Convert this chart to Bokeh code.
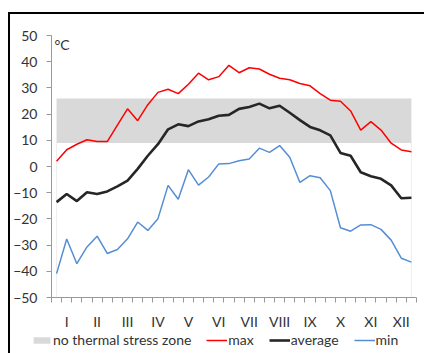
from bokeh.plotting import figure
from bokeh.layouts import column
from bokeh.models import Range1d, FixedTicker, Legend, LegendItem, Label
from bokeh.embed import file_html
from bokeh.resources import INLINE

# Dekad (10-day period) values, 36 per year
max_t = [2.0, 6.4, 8.5, 10.2, 9.5, 9.5, 15.8, 22.0, 17.5, 23.6, 28.3, 29.5,
         27.8, 31.4, 35.6, 33.1, 34.3, 38.6, 35.8, 37.7, 37.2, 35.2, 33.7, 33.1,
         31.7, 30.8, 27.8, 25.3, 24.9, 21.2, 13.9, 17.1, 13.9, 8.9, 6.3, 5.6]
avg_t = [-13.6, -10.5, -13.2, -9.8, -10.5, -9.5, -7.6, -5.4, -0.9, 4.1, 8.5, 14.2,
         16.1, 15.4, 17.2, 18.0, 19.4, 19.7, 22.0, 22.7, 24.0, 22.2, 23.2, 20.5,
         17.7, 15.1, 13.8, 11.9, 5.2, 4.1, -2.2, -3.7, -4.7, -7.2, -12.1, -11.9]
min_t = [-40.9, -27.7, -37.1, -30.7, -26.6, -33.2, -31.7, -27.6, -21.2, -24.4, -19.9, -7.2,
         -12.5, -1.2, -7.1, -4.0, 1.0, 1.1, 2.2, 2.9, 7.0, 5.4, 8.0, 3.5,
         -6.1, -3.5, -4.3, -9.2, -23.4, -24.7, -22.3, -22.2, -24.0, -28.1, -35.0, -36.5]
months = ["I", "II", "III", "IV", "V", "VI", "VII", "VIII", "IX", "X", "XI", "XII"]
zone_low = 9
zone_high = 26
y_ticks = [-50, -40, -30, -20, -10, 0, 10, 20, 30, 40, 50]

n = len(max_t)
x = [i + 0.5 for i in range(n)]
month_pos = [3 * k + 1.5 for k in range(len(months))]

FONT = "Lato"
TXT = "#333333"
AX = "#999999"
ZONE = "#d9d9d9"
C_MAX, C_AVG, C_MIN = "#ff0000", "#262626", "#558ed5"

p = figure(width=414, height=318, x_range=Range1d(0, n), y_range=Range1d(y_ticks[0], y_ticks[-1]),
           output_backend="svg", toolbar_location=None,
           min_border_left=37, min_border_right=8, min_border_top=21, min_border_bottom=32)
p.xgrid.visible = False
p.ygrid.visible = False
p.outline_line_color = None
p.background_fill_color = "white"

# faint edges of the zone series down to the axis
p.segment(x0=[x[0], x[-1]], y0=[y_ticks[0]] * 2, x1=[x[0], x[-1]], y1=[zone_low] * 2,
          line_color="#eeeeee", line_width=1)
band = p.quad(left=[x[0]], right=[x[-1]], bottom=[zone_low], top=[zone_high],
              fill_color=ZONE, line_color=None)
r_max = p.line(x, max_t, line_color=C_MAX, line_width=1.5)
r_avg = p.line(x, avg_t, line_color=C_AVG, line_width=2.6)
r_min = p.line(x, min_t, line_color=C_MIN, line_width=1.5)

xa = p.xaxis[0]
xa.ticker = FixedTicker(ticks=month_pos, minor_ticks=list(range(n + 1)))
xa.major_label_overrides = {pos: m for pos, m in zip(month_pos, months)}
xa.major_tick_line_color = None
xa.minor_tick_in = 0
xa.minor_tick_out = 5
xa.minor_tick_line_color = AX
xa.axis_line_color = AX
xa.major_label_text_font = FONT
xa.major_label_text_font_size = "14px"
xa.major_label_text_color = TXT
xa.major_label_standoff = 9

ya = p.yaxis[0]
ya.ticker = FixedTicker(ticks=y_ticks)
ya.major_tick_in = 0
ya.major_tick_out = 5
ya.major_tick_line_color = AX
ya.minor_tick_line_color = None
ya.axis_line_color = AX
ya.major_label_text_font = FONT
ya.major_label_text_font_size = "14px"
ya.major_label_text_color = TXT
ya.major_label_standoff = 9

p.add_layout(Label(x=0.3, y=49.8, text="°C", text_baseline="top", text_align="left",
                   text_font=FONT, text_font_size="14px", text_color=TXT))

# legend strip under the chart (its renderers lie outside its visible range)
lf = figure(width=414, height=21, x_range=Range1d(0, 1), y_range=Range1d(100, 101),
            x_axis_type=None, y_axis_type=None, output_backend="svg", toolbar_location=None,
            min_border_left=0, min_border_right=0, min_border_top=0, min_border_bottom=0,
            frame_align=False)
lf.xgrid.visible = False
lf.ygrid.visible = False
lf.outline_line_color = None
l_band = lf.quad(left=[x[0]], right=[x[-1]], bottom=[zone_low], top=[zone_high],
                 fill_color=ZONE, line_color=None)
l_max = lf.line(x, max_t, line_color=C_MAX, line_width=1.5)
l_avg = lf.line(x, avg_t, line_color=C_AVG, line_width=2.6)
l_min = lf.line(x, min_t, line_color=C_MIN, line_width=1.5)

legend = Legend(items=[LegendItem(label="no thermal stress zone", renderers=[l_band]),
                       LegendItem(label="max", renderers=[l_max]),
                       LegendItem(label="average", renderers=[l_avg]),
                       LegendItem(label="min", renderers=[l_min])],
                orientation="horizontal", location=(21, 5),
                glyph_width=21, glyph_height=8, label_standoff=1, spacing=15,
                padding=0, margin=0, border_line_alpha=0, background_fill_alpha=0,
                label_text_font=FONT, label_text_font_size="14px", label_text_color=TXT,
                label_height=16)
lf.add_layout(legend)

layout = column(p, lf, spacing=0)
layout.styles = {"margin-top": "12px", "margin-left": "8px",
                 "border-top": "2px solid black", "border-left": "2px solid black"}

open("out.html", "w").write(file_html(layout, INLINE))
